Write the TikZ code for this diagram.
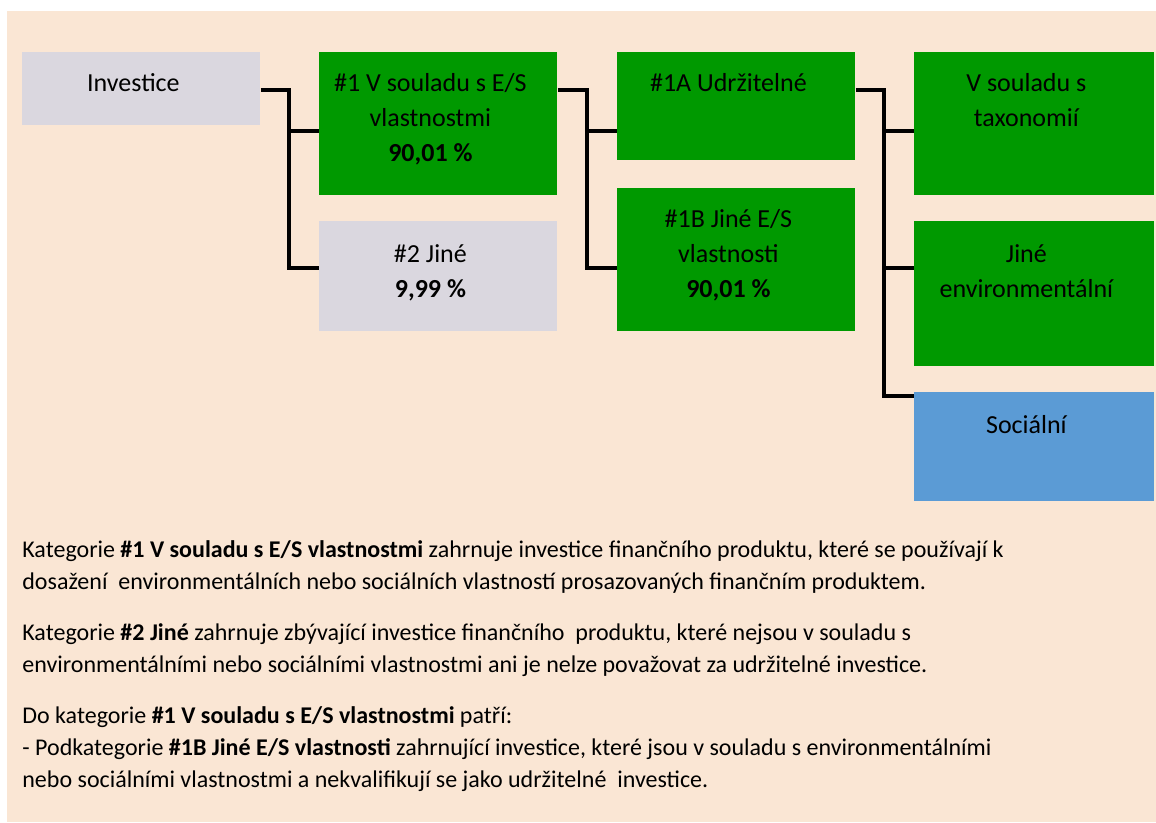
\documentclass[tikz,border=0pt]{standalone}
\usepackage{fontspec}
\setmainfont{Carlito}
\usetikzlibrary{positioning}

\definecolor{pozadi}{HTML}{FAE6D4}
\definecolor{zelena}{HTML}{009900}
\definecolor{seda}{HTML}{DAD7DF}
\definecolor{modra}{HTML}{5B9BD5}

\tikzset{
  box/.style={draw=none, inner sep=0pt, minimum width=119pt, anchor=north west},
  greenbox/.style={box, fill=zelena},
  greybox/.style={box, fill=seda},
  bluebox/.style={box, fill=modra},
  boxtext/.style={align=center, inner sep=0pt, anchor=base, xshift=-4pt, yshift=-#1,
    font=\fontsize{13}{17.5}\selectfont},
  conn/.style={line width=2pt, black},
  popis/.style={align=left, inner sep=0pt, anchor=base west,
    font=\fontsize{12}{16}\selectfont}
}

\begin{document}
\begin{tikzpicture}[x=0.5pt, y=-0.5pt]
\useasboundingbox (0,0) rectangle (1156,823);
\fill[pozadi] (7,11) rectangle (1156,822);

% boxes
\node[greybox, minimum height=36.5pt] (invest) at (22,52) {};
\node[greenbox, minimum height=71.5pt] (soulad) at (319,52) {};
\node[greybox, minimum height=55pt] (jine) at (319,221) {};
\node[greenbox, minimum height=54pt] (udrz) at (617,52) {};
\node[greenbox, minimum height=71.5pt] (jineES) at (617,188) {};
\node[greenbox, minimum width=120pt, minimum height=71.5pt] (taxo) at (914,52) {};
\node[greenbox, minimum width=120pt, minimum height=72.5pt] (jineEnv) at (914,221) {};
\node[bluebox, minimum width=120pt, minimum height=54.5pt] (social) at (914,392) {};

% texts in boxes (anchor = baseline of the last line)
\node[boxtext=20pt] (investT) at (invest.north) {Investice};
\node[boxtext=55pt] (souladT) at (soulad.north) {\#1 V souladu s E/S\\ vlastnostmi\\ \textbf{90,01 \%}};
\node[boxtext=38.5pt] (jineT) at (jine.north) {\#2 Jiné\\ \textbf{9,99 \%}};
\node[boxtext=20pt] (udrzT) at (udrz.north) {\#1A Udržitelné};
\node[boxtext=55pt] (jineEST) at (jineES.north) {\#1B Jiné E/S\\ vlastnosti\\ \textbf{90,01 \%}};
\node[boxtext=37.5pt] (taxoT) at (taxo.north) {V souladu s\\ taxonomií};
\node[boxtext=38.5pt] (jineEnvT) at (jineEnv.north) {Jiné\\ environmentální};
\node[boxtext=21pt] (socialT) at (social.north) {Sociální};

% connectors
\coordinate (j1) at (289,90);
\coordinate (j2) at (587,90);
\coordinate (j3) at (884,90);
\draw[conn] ([yshift=-19pt]invest.north east) -- (j1) |- ([yshift=-39.5pt]soulad.north west);
\draw[conn] (j1) |- ([yshift=-23.5pt]jine.north west);
\draw[conn] ([yshift=-19pt]soulad.north east) -- (j2) |- ([yshift=-39.5pt]udrz.north west);
\draw[conn] (j2) |- ([yshift=-40pt]jineES.north west);
\draw[conn] ([yshift=-19pt]udrz.north east) -- (j3) |- ([yshift=-39.5pt]taxo.north west);
\draw[conn] (j3) |- ([yshift=-23.5pt]jineEnv.north west);
\draw[conn] (j3) |- ([yshift=-2pt]social.north west);

% popis
\node[popis] (odst1) at (22,589) {Kategorie \textbf{\#1 V souladu s E/S vlastnostmi} zahrnuje investice finančního produktu, které se používají k\\
dosažení\ \ environmentálních nebo sociálních vlastností prosazovaných finančním produktem.};
\node[popis] (odst2) at (22,672) {Kategorie \textbf{\#2 Jiné} zahrnuje zbývající investice finančního\ \ produktu, které nejsou v souladu s\\
environmentálními nebo sociálními vlastnostmi ani je nelze považovat za udržitelné investice.};
\node[popis] (odst3) at (22,787) {Do kategorie \textbf{\#1 V souladu s E/S vlastnostmi} patří:\\
- Podkategorie \textbf{\#1B Jiné E/S vlastnosti} zahrnující investice, které jsou v souladu s environmentálními\\
nebo sociálními vlastnostmi a nekvalifikují se jako udržitelné\ \ investice.};
\end{tikzpicture}
\end{document}
